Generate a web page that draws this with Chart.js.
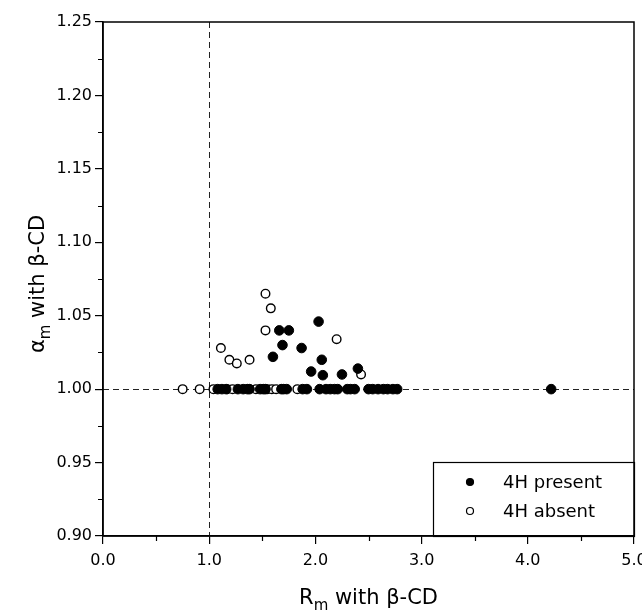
<!DOCTYPE html>
<html>
<head>
<meta charset="utf-8">
<script src="https://cdn.jsdelivr.net/npm/chart.js@4.4.1/dist/chart.umd.min.js"></script>
<style>
  html, body { margin: 0; padding: 0; background: #fff; }
  #wrap { width: 642px; height: 611px; }
</style>
</head>
<body>
<div id="wrap"><canvas id="plot" width="642" height="611"></canvas></div>
<script>
// 4H present (filled circles)
const presentX = [1.66, 1.75, 1.69, 1.60, 2.03, 1.87, 2.06, 1.96, 2.07, 2.25, 2.40,
  1.08, 1.12, 1.16, 1.27, 1.32, 1.36, 1.38, 1.48, 1.51, 1.53, 1.68, 1.70, 1.73,
  1.88, 1.92, 2.04, 2.10, 2.14, 2.18, 2.21, 2.30, 2.33, 2.37,
  2.50, 2.54, 2.59, 2.64, 2.68, 2.73, 2.77, 4.22];
const presentY = [1.040, 1.040, 1.030, 1.022, 1.046, 1.028, 1.020, 1.012, 1.0095, 1.010, 1.014,
  1, 1, 1, 1, 1, 1, 1, 1, 1, 1, 1, 1, 1,
  1, 1, 1, 1, 1, 1, 1, 1, 1, 1,
  1, 1, 1, 1, 1, 1, 1, 1];

// 4H absent (open circles)
const absentX = [1.11, 1.19, 1.26, 1.38, 1.53, 1.58, 1.53, 2.20, 2.43,
  0.75, 0.91, 1.04, 1.17, 1.22, 1.44, 1.55, 1.59, 1.63, 1.83];
const absentY = [1.028, 1.020, 1.0175, 1.020, 1.065, 1.055, 1.040, 1.034, 1.010,
  1, 1, 1, 1, 1, 1, 1, 1, 1, 1];

const xTicks = [0, 1, 2, 3, 4, 5];
const xMinor = [0.5, 1.5, 2.5, 3.5, 4.5];
const yTicks = [0.90, 0.95, 1.00, 1.05, 1.10, 1.15, 1.20, 1.25];
const yMinor = [0.925, 0.975, 1.025, 1.075, 1.125, 1.175, 1.225];

const FONT = '"DejaVu Sans", Arial, sans-serif';

function toPoints(xs, ys) {
  return xs.map((x, i) => ({ x: x, y: ys[i] }));
}

// reference lines, frame, minor ticks, axis titles and legend box
const decor = {
  id: 'decor',
  beforeDatasetsDraw(chart) {
    const { ctx, chartArea: a, scales: { x, y } } = chart;
    ctx.save();
    ctx.strokeStyle = '#222';
    ctx.lineWidth = 1;
    ctx.setLineDash([6, 4]);
    const y1 = Math.round(y.getPixelForValue(1.0)) + 0.5;
    const x1 = Math.round(x.getPixelForValue(1.0)) + 0.5;
    ctx.beginPath();
    ctx.moveTo(a.left, y1); ctx.lineTo(a.right, y1);
    ctx.moveTo(x1, a.top); ctx.lineTo(x1, a.bottom);
    ctx.stroke();
    ctx.restore();
  },
  afterDraw(chart) {
    const { ctx, chartArea: a, scales: { x, y } } = chart;
    ctx.save();
    ctx.strokeStyle = '#000';
    ctx.lineWidth = 1.5;
    ctx.strokeRect(a.left, a.top, a.right - a.left, a.bottom - a.top);

    // minor ticks
    ctx.lineWidth = 1.2;
    ctx.beginPath();
    xMinor.forEach(v => {
      const px = Math.round(x.getPixelForValue(v)) + 0.5;
      ctx.moveTo(px, a.bottom); ctx.lineTo(px, a.bottom + 5);
    });
    yMinor.forEach(v => {
      const py = Math.round(y.getPixelForValue(v)) + 0.5;
      ctx.moveTo(a.left, py); ctx.lineTo(a.left - 5, py);
    });
    ctx.stroke();

    // axis titles with subscripts
    ctx.fillStyle = '#000';
    ctx.textBaseline = 'alphabetic';
    const drawTitle = (main, sub, rest, cx, base) => {
      ctx.font = '21px ' + FONT;
      const w1 = ctx.measureText(main).width;
      const w3 = ctx.measureText(rest).width;
      ctx.font = '15px ' + FONT;
      const w2 = ctx.measureText(sub).width;
      let sx = cx - (w1 + w2 + w3) / 2;
      ctx.font = '21px ' + FONT;
      ctx.textAlign = 'left';
      ctx.fillText(main, sx, base);
      ctx.font = '15px ' + FONT;
      ctx.fillText(sub, sx + w1, base + 6);
      ctx.font = '21px ' + FONT;
      ctx.fillText(rest, sx + w1 + w2, base);
    };
    drawTitle('R', 'm', ' with \u03b2-CD', (a.left + a.right) / 2, 604);
    ctx.save();
    ctx.translate(44, 284);
    ctx.rotate(-Math.PI / 2);
    drawTitle('\u03b1', 'm', ' with \u03b2-CD', 0, 0);
    ctx.restore();

    // legend box
    const bx = a.right - 201, by = a.bottom - 74;
    ctx.lineWidth = 1.2;
    ctx.strokeRect(bx + 0.5, by + 0.5, a.right - bx, a.bottom - by);
    ctx.font = '18px ' + FONT;
    ctx.textAlign = 'left';
    ctx.textBaseline = 'middle';
    chart.data.datasets.forEach((ds, i) => {
      const ly = by + 20 + i * 29;
      ctx.beginPath();
      ctx.arc(bx + 37, ly, 3.5, 0, Math.PI * 2);
      ctx.fillStyle = ds.backgroundColor;
      ctx.fill();
      ctx.lineWidth = 1.2;
      ctx.strokeStyle = '#000';
      ctx.stroke();
      ctx.fillStyle = '#000';
      ctx.fillText(ds.label, bx + 70, ly + 1);
    });
    ctx.restore();
  }
};

const ctx = document.getElementById('plot').getContext('2d');
const chart = new Chart(ctx, {
  type: 'scatter',
  data: {
    datasets: [{
      label: '4H present',
      data: toPoints(presentX, presentY),
      backgroundColor: '#000',
      borderColor: '#000',
      borderWidth: 1,
      pointRadius: 4.8
    }, {
      label: '4H absent',
      data: toPoints(absentX, absentY),
      backgroundColor: '#fff',
      borderColor: '#000',
      borderWidth: 1.4,
      pointRadius: 4.3
    }]
  },
  options: {
    responsive: false,
    animation: false,
    layout: { padding: { top: 22, right: 8, left: 0, bottom: 0 } },
    plugins: {
      legend: { display: false },
      tooltip: { enabled: false }
    },
    scales: {
      x: {
        type: 'linear',
        min: 0,
        max: 5,
        afterFit: s => { s.height = 75; s.paddingLeft = 0; s.paddingRight = 0; },
        afterBuildTicks: s => { s.ticks = xTicks.map(v => ({ value: v })); },
        ticks: {
          color: '#000',
          font: { family: FONT, size: 16 },
          padding: 7,
          maxRotation: 0,
          callback: v => v.toFixed(1)
        },
        grid: { drawOnChartArea: false, tickLength: 8, color: '#000', lineWidth: 1.2 },
        border: { display: true, color: '#000', width: 1.5 }
      },
      y: {
        type: 'linear',
        min: 0.9,
        max: 1.25,
        afterFit: s => { s.width = 103; s.paddingTop = 0; s.paddingBottom = 0; },
        afterBuildTicks: s => { s.ticks = yTicks.map(v => ({ value: v })); },
        ticks: {
          color: '#000',
          font: { family: FONT, size: 16 },
          padding: 3,
          callback: v => v.toFixed(2)
        },
        grid: { drawOnChartArea: false, tickLength: 8, color: '#000', lineWidth: 1.2 },
        border: { display: true, color: '#000', width: 1.5 }
      }
    }
  },
  plugins: [decor]
});
</script>
</body>
</html>
